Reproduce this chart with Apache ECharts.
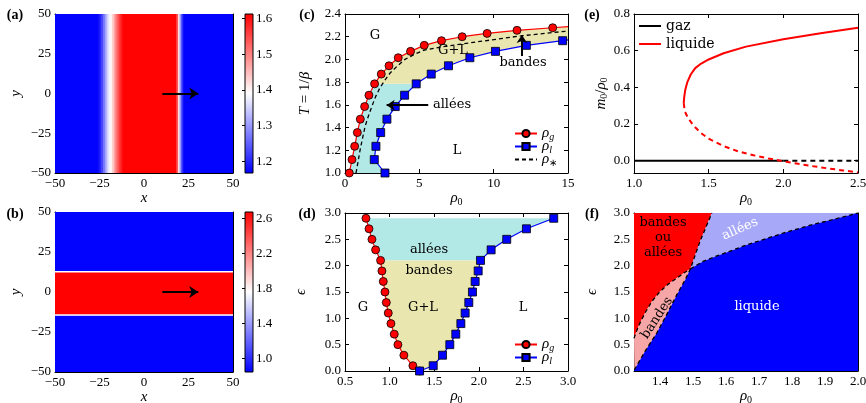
<!DOCTYPE html>
<html>
<head>
<meta charset="utf-8">
<title>Bandes et allées</title>
<script src="https://cdn.jsdelivr.net/npm/echarts@6.0.0/dist/echarts.min.js"></script>
<style>
  html, body { margin: 0; padding: 0; background: #fff; }
  #chart { width: 866px; height: 403px; }
</style>
</head>
<body>
<div id="chart"></div>
<script>
const SERIF = 'Liberation Serif'
const WORDS = 'DejaVu Serif'

// (a) profil de densité d'une bande le long de x : [x0, x1, rho]
const bandProfile = [
  [-50, -26, 1.17], [-26, -25, 1.18], [-25, -24, 1.20], [-24, -23, 1.23],
  [-23, -22, 1.27], [-22, -21, 1.31], [-21, -20, 1.35], [-20, -19, 1.38],
  [-19, -18, 1.40], [-18, -17, 1.43], [-17, -16, 1.47], [-16, -15, 1.51],
  [-15, -14, 1.54], [-14, -13, 1.57], [-13, -12, 1.59], [-12, 18, 1.61],
  [18, 19, 1.56], [19, 20, 1.42], [20, 21, 1.30], [21, 22, 1.21], [22, 50, 1.17]
]
const bandRange = [1.168, 1.612]
const bandTicks = [1.2, 1.3, 1.4, 1.5, 1.6]

// (b) profil d'une allée le long de y : [y0, y1, rho]
const laneProfile = [
  [-50, -14.5, 0.85], [-14.5, -13.5, 1.75], [-13.5, 12.5, 2.67], [12.5, 13.5, 1.75], [13.5, 50, 0.85]
]
const laneRange = [0.843, 2.672]
const laneTicks = [1.0, 1.4, 1.8, 2.2, 2.6]

const fieldExtent = [-50, 50]
const motionArrow = [[10.3, 0], [30.5, 0]]

// (c) diagramme (rho0, T)
const cTemp = [1.0, 1.118, 1.235, 1.356, 1.474, 1.585, 1.685, 1.785, 1.871, 1.944, 2.015, 2.071, 2.124, 2.165, 2.2, 2.229, 2.256, 2.279]
const cRhoGas = [0.29, 0.47, 0.65, 0.83, 1.03, 1.32, 1.61, 1.99, 2.44, 2.96, 3.58, 4.41, 5.33, 6.49, 7.88, 9.56, 11.57, 13.97]
const cRhoLiq = [2.69, 1.97, 2.08, 2.40, 2.82, 3.38, 4.01, 4.79, 5.80, 6.96, 8.40, 10.12, 12.2, 14.64]
const cGasEnd = [15, 2.288]
const cLiqEnd = [15, 2.172]
const cStarRho = [0.74, 0.88, 1.01, 1.17, 1.35, 1.57, 1.79, 2.05, 2.35, 2.7, 3.03, 3.5, 4.03, 4.6, 5.27, 6.5, 8.63, 10.3, 12.0, 13.5, 15.0]
const cStarT = [1.0, 1.1, 1.2, 1.3, 1.41, 1.5, 1.58, 1.67, 1.75, 1.82, 1.88, 1.94, 2.0, 2.04, 2.08, 2.11, 2.15, 2.18, 2.21, 2.23, 2.25]
const cLaneRow = 7 // au-dessous de T = 1.785 : allées
const cArrowBandes = [[11.9, 2.03], [11.9, 2.215]]
const cArrowAllees = [[5.6, 1.597], [2.8, 1.597]]

// (d) diagramme (rho0, epsilon)
const dEps = [2.9, 2.7, 2.5, 2.3, 2.1, 1.9, 1.7, 1.5, 1.3, 1.1, 0.9, 0.7, 0.5, 0.3, 0.1, 0.0]
const dRhoGas = [0.735, 0.769, 0.802, 0.843, 0.899, 0.914, 0.929, 0.948, 0.963, 0.985, 1.015, 1.052, 1.093, 1.16, 1.261, 1.336]
const dRhoLiq = [2.84, 2.534, 2.313, 2.138, 2.019, 1.993, 1.959, 1.929, 1.888, 1.847, 1.799, 1.742, 1.675, 1.593, 1.489, 1.336]
const dLaneRow = 4 // au-dessus de eps = 2.1 : allées

// (e) solutions homogènes m0/rho0
const eGasStable = [[1.0, 0], [2.0, 0]]
const eGasUnstable = [[2.0, 0], [2.5, 0]]
const eLiqStable = [[1.333, 0.314], [1.336, 0.345], [1.343, 0.385], [1.358, 0.43], [1.38, 0.47], [1.41, 0.505], [1.45, 0.53],
  [1.5, 0.552], [1.6, 0.586], [1.75, 0.622], [2.0, 0.662], [2.25, 0.695], [2.5, 0.725]]
const eLiqUnstable = [[1.333, 0.314], [1.34, 0.27], [1.36, 0.235], [1.4, 0.19], [1.45, 0.15], [1.5, 0.12], [1.6, 0.08],
  [1.7, 0.05], [1.8, 0.03], [1.9, 0.012], [2.0, -0.003], [2.1, -0.017], [2.2, -0.03], [2.3, -0.042], [2.4, -0.053], [2.5, -0.064]]
const eMagTicks = [0.0, 0.2, 0.4, 0.6, 0.8]

// (f) frontières de stabilité (rho0, epsilon)
const fLimitLow = [[1.322, 0.02], [1.354, 0.37], [1.39, 0.72], [1.42, 1.07], [1.451, 1.45], [1.476, 1.73], [1.492, 1.94]]
const fLimitHigh = [[1.492, 1.94], [1.521, 2.46], [1.557, 3.0]]
const fLaneEdge = [[1.492, 1.94], [1.53, 2.08], [1.57, 2.18], [1.61, 2.27], [1.66, 2.39], [1.72, 2.51], [1.78, 2.63], [1.85, 2.76], [1.92, 2.87], [2.0, 3.0]]
const fBandEdge = [[1.321, 0.62], [1.33, 0.78], [1.342, 0.95], [1.356, 1.12], [1.375, 1.32], [1.40, 1.51], [1.425, 1.65], [1.45, 1.76], [1.472, 1.86], [1.492, 1.94]]
const fRange = [1.321, 2.0, 0, 3]
const fRhoTicks = [1.4, 1.5, 1.6, 1.7, 1.8, 1.9, 2.0]

const BWR = ['#0000ff', '#ffffff', '#ff0000']
const zip = (xs, ys) => xs.map((x, i) => [x, ys[i]])
const fmtInt = v => (v < 0 ? '\u2212' : '') + Math.abs(v)
const fmt1 = v => (v < -1e-9 ? '\u2212' : '') + Math.abs(v).toFixed(1)

const nameRich = {
  i: { fontFamily: SERIF, fontStyle: 'italic', fontSize: 15, color: '#000' },
  s: { fontFamily: SERIF, fontSize: 10, color: '#000', padding: [7, 0, 0, 0] }
}
const RHO0 = '{i|ρ}{s|0}'

const grids = [
  { left: 55, top: 14, width: 178, height: 159 },
  { left: 55, top: 212, width: 178, height: 160 },
  { left: 345, top: 14, width: 223, height: 159 },
  { left: 345, top: 213, width: 223, height: 158 },
  { left: 634, top: 14, width: 224, height: 159 },
  { left: 634, top: 213, width: 224, height: 158 },
  { left: 245, top: 14, width: 8, height: 159 },
  { left: 245, top: 212, width: 8, height: 160 }
]

const fieldAx = { min: -50, max: 50, interval: 25, fmt: fmtInt }
const panels = [
  { x: { ...fieldAx, name: '{i|x}', gap: 18 }, y: { ...fieldAx, name: '{i|y}', gap: 31 } },
  { x: { ...fieldAx, name: '{i|x}', gap: 18 }, y: { ...fieldAx, name: '{i|y}', gap: 31 } },
  { x: { min: 0, max: 15, interval: 5, fmt: fmtInt, name: RHO0, gap: 17 },
    y: { min: 1.0, max: 2.4, interval: 0.2, fmt: fmt1, name: '{i|T} = 1/{i|β}', gap: 32 } },
  { x: { min: 0.5, max: 3.0, interval: 0.5, fmt: fmt1, name: RHO0, gap: 17 },
    y: { min: 0, max: 3, interval: 0.5, fmt: fmt1, name: '{i|ϵ}', gap: 36 } },
  { x: { min: 1.0, max: 2.5, interval: 0.5, fmt: fmt1, name: RHO0, gap: 17 },
    y: { min: -0.067, max: 0.8, ticks: eMagTicks, fmt: fmt1, name: '{i|m}{s|0}/{i|ρ}{s|0}', gap: 21 } },
  { x: { min: fRange[0], max: fRange[1], ticks: fRhoTicks, fmt: fmt1, name: RHO0, gap: 17 },
    y: { min: fRange[2], max: fRange[3], interval: 0.5, fmt: fmt1, name: '{i|ϵ}', gap: 34 } }
]

function axis(gi, spec, side) {
  const main = side === 'bottom' || side === 'left'
  const a = {
    type: 'value', gridIndex: gi, position: side, min: spec.min, max: spec.max,
    axisLine: { show: true, onZero: false, lineStyle: { color: '#000', width: 1 } },
    axisTick: { show: true, inside: true, length: 4, lineStyle: { color: '#000', width: 1 } },
    axisLabel: { show: main, color: '#000', fontFamily: SERIF, fontSize: 13, margin: 4, formatter: spec.fmt },
    splitLine: { show: false }
  }
  if (spec.ticks) {
    a.axisTick.customValues = spec.ticks
    a.axisLabel.customValues = spec.ticks
  } else {
    a.interval = spec.interval
  }
  if (main) {
    a.name = spec.name
    a.nameLocation = 'middle'
    a.nameGap = spec.gap
    a.nameTextStyle = { fontFamily: SERIF, fontSize: 15, color: '#000', rich: nameRich }
  }
  return a
}

const xAxes = []
const yAxes = []
panels.forEach((p, gi) => {
  xAxes.push(axis(gi, p.x, 'bottom'), axis(gi, p.x, 'top'))
  yAxes.push(axis(gi, p.y, 'left'), axis(gi, p.y, 'right'))
})
;[[bandRange, bandTicks], [laneRange, laneTicks]].forEach(([range, ticks], k) => {
  const gi = 6 + k
  xAxes.push({ type: 'value', gridIndex: gi, show: false, min: 0, max: 1 })
  yAxes.push({
    type: 'value', gridIndex: gi, position: 'right', min: range[0], max: range[1],
    axisLine: { show: false },
    axisTick: { show: true, inside: true, length: 3, customValues: ticks, lineStyle: { color: '#000' } },
    axisLabel: { color: '#000', fontFamily: SERIF, fontSize: 13, margin: 3, customValues: ticks, formatter: fmt1 },
    splitLine: { show: false }
  })
})

// bandes de couleur (cartes de densité)
function stripes(pi, data, alongY) {
  return {
    type: 'custom', xAxisIndex: 2 * pi, yAxisIndex: 2 * pi, data, silent: true, clip: true, z: 1,
    renderItem(params, api) {
      const a = api.value(0), b = api.value(1)
      const p0 = alongY ? api.coord([fieldExtent[0], b]) : api.coord([a, fieldExtent[1]])
      const p1 = alongY ? api.coord([fieldExtent[1], a]) : api.coord([b, fieldExtent[0]])
      return {
        type: 'rect',
        shape: { x: p0[0], y: p0[1], width: p1[0] - p0[0] + (alongY ? 0 : 0.6), height: p1[1] - p0[1] + (alongY ? 0.6 : 0) },
        style: { fill: api.visual('color') }
      }
    }
  }
}

function area(pi, pts, color) {
  return {
    type: 'custom', xAxisIndex: 2 * pi, yAxisIndex: 2 * pi, data: [0], silent: true, clip: true, z: 1,
    renderItem(params, api) {
      return { type: 'polygon', shape: { points: pts.map(p => api.coord(p)) }, style: { fill: color } }
    }
  }
}

function curve(name, pi, pts, color, extra) {
  return Object.assign({
    type: 'line', name, xAxisIndex: 2 * pi, yAxisIndex: 2 * pi, data: pts, symbol: 'none',
    silent: true, z: 3, animation: false,
    lineStyle: { color, width: 1.2 }, itemStyle: { color }
  }, extra)
}

function arrows(pi, segs, width, size) {
  return {
    type: 'line', xAxisIndex: 2 * pi, yAxisIndex: 2 * pi, data: [], silent: true, z: 6,
    markLine: {
      silent: true, animation: false, symbol: ['none', 'arrow'], symbolSize: size,
      label: { show: false }, emphasis: { disabled: true },
      lineStyle: { color: '#000', width, type: 'solid' },
      data: segs.map(s => [{ coord: s[0] }, { coord: s[1] }])
    }
  }
}

const dot = { symbol: 'circle', symbolSize: 8, showSymbol: true, itemStyle: { color: '#ff0000', borderColor: '#000', borderWidth: 0.8 } }
const box = { symbol: 'rect', symbolSize: 8, showSymbol: true, itemStyle: { color: '#0000ff', borderColor: '#000', borderWidth: 0.8 } }

// (c)
const cGas = zip(cRhoGas, cTemp)
const cLiq = zip(cRhoLiq, cTemp)
const cLaneFill = cGas.slice(0, cLaneRow + 1).concat(cLiq.slice(0, cLaneRow + 1).reverse())
const cBandFill = cGas.slice(cLaneRow).concat([cGasEnd, cLiqEnd], cLiq.slice(cLaneRow).reverse())
// (d)
const dGas = zip(dRhoGas, dEps)
const dLiq = zip(dRhoLiq, dEps)
const dLaneFill = dGas.slice(0, dLaneRow + 1).concat(dLiq.slice(0, dLaneRow + 1).reverse())
const dBandFill = dGas.slice(dLaneRow).concat(dLiq.slice(dLaneRow).reverse())
// (f)
const [fx0, fx1, fy0, fy1] = fRange
const fRed = [[fx0, fy1]].concat(fLimitHigh.slice().reverse(), fBandEdge.slice().reverse())
const fPink = fBandEdge.concat(fLimitLow.slice().reverse())
const fLav = fLimitHigh.concat(fLaneEdge.slice().reverse())
const fBlue = fLimitLow.concat(fLaneEdge.slice(1), [[fx1, fy0], [fx0, fy0]])
const dash = { lineStyle: { color: '#000', width: 1.3, type: [4, 3] } }

const series = [
  stripes(0, bandProfile, false),
  stripes(1, laneProfile, true),
  arrows(0, [motionArrow], 2, 9),
  arrows(1, [motionArrow], 2, 9),

  area(2, cLaneFill, '#b2e8e6'),
  area(2, cBandFill, '#e9e6b0'),
  curve('cRhoS', 2, zip(cStarRho, cStarT), '#000', { lineStyle: { color: '#000', width: 1.3, type: [4, 3] } }),
  curve('cRhoG', 2, cGas.concat([{ value: cGasEnd, symbol: 'none' }]), '#ff0000', dot),
  curve('cRhoL', 2, cLiq.concat([{ value: cLiqEnd, symbol: 'none' }]), '#0000ff', box),
  arrows(2, [cArrowBandes, cArrowAllees], 2, 8),

  area(3, dLaneFill, '#b2e8e6'),
  area(3, dBandFill, '#e9e6b0'),
  curve('dRhoG', 3, dGas, '#ff0000', dot),
  curve('dRhoL', 3, dLiq, '#0000ff', box),

  curve('eGas', 4, eGasStable, '#000', { lineStyle: { color: '#000', width: 2 } }),
  curve('eGasU', 4, eGasUnstable, '#000', { lineStyle: { color: '#000', width: 2, type: [5, 4] } }),
  curve('eLiq', 4, eLiqStable, '#ff0000', { lineStyle: { color: '#ff0000', width: 2 } }),
  curve('eLiqU', 4, eLiqUnstable, '#ff0000', { lineStyle: { color: '#ff0000', width: 2, type: [5, 4] } }),

  area(5, fRed, '#ff0000'),
  area(5, fPink, '#f6a6a6'),
  area(5, fLav, '#a8a8f8'),
  area(5, fBlue, '#0000ff'),
  curve('fA', 5, fLimitLow.concat(fLimitHigh.slice(1)), '#000', dash),
  curve('fB', 5, fLaneEdge, '#000', dash),
  curve('fC', 5, fBandEdge, '#000', dash)
]

const legendNames = {
  cRhoG: '{i|ρ}{s|g}', cRhoL: '{i|ρ}{s|l}', cRhoS: '{i|ρ}{r|∗}',
  dRhoG: '{i|ρ}{s|g}', dRhoL: '{i|ρ}{s|l}',
  eGas: 'gaz', eLiq: 'liquide'
}
const lineOnly = name => ({ name, itemStyle: { opacity: 0 } })
const legendRich = {
  i: { fontFamily: SERIF, fontStyle: 'italic', fontSize: 15, color: '#000' },
  s: { fontFamily: SERIF, fontStyle: 'italic', fontSize: 10, color: '#000', padding: [7, 0, 0, 0] },
  r: { fontFamily: SERIF, fontSize: 10, color: '#000', padding: [7, 0, 0, 0] }
}
const rhoLegend = (names, top) => ({
  data: names, left: 514, top, orient: 'vertical', itemWidth: 22, itemHeight: 9, itemGap: -3, padding: 0,
  selectedMode: false, formatter: n => legendNames[n],
  textStyle: { fontFamily: SERIF, fontSize: 14, color: '#000', rich: legendRich }
})

const colorbar = g => ({
  type: 'rect', silent: true, z: 10,
  shape: { x: g.left, y: g.top, width: g.width, height: g.height },
  style: {
    fill: { type: 'linear', x: 0, y: 0, x2: 0, y2: 1, colorStops: [
      { offset: 0, color: BWR[2] }, { offset: 0.5, color: BWR[1] }, { offset: 1, color: BWR[0] }] },
    stroke: '#000', lineWidth: 1
  }
})

function note(x, y, text, o = {}) {
  return {
    type: 'text', x, y, rotation: o.rot || 0, silent: true, z: 20,
    style: {
      text, fill: o.color || '#000', font: o.font || '13px "DejaVu Serif"',
      align: 'center', verticalAlign: 'middle', textAlign: 'center', textVerticalAlign: 'middle'
    }
  }
}
const tag = (x, y, t) => note(x, y, t, { font: 'bold 14px "Liberation Serif"' })
const deg = d => d * Math.PI / 180

const chart = echarts.init(document.getElementById('chart'), null, { renderer: 'canvas' })
chart.setOption({
  animation: false,
  backgroundColor: '#fff',
  grid: grids.map(g => Object.assign({ outerBoundsMode: 'none', containLabel: false }, g)),
  xAxis: xAxes,
  yAxis: yAxes,
  visualMap: [
    { show: false, type: 'continuous', seriesIndex: 0, dimension: 2, min: bandRange[0], max: bandRange[1], inRange: { color: BWR } },
    { show: false, type: 'continuous', seriesIndex: 1, dimension: 2, min: laneRange[0], max: laneRange[1], inRange: { color: BWR } }
  ],
  legend: [
    rhoLegend(['cRhoG', 'cRhoL', lineOnly('cRhoS')], 126),
    rhoLegend(['dRhoG', 'dRhoL'], 337),
    {
      data: [lineOnly('eGas'), lineOnly('eLiq')], left: 638, top: 19, orient: 'vertical', itemWidth: 22, itemHeight: 10, itemGap: 4, padding: 0,
      selectedMode: false, formatter: n => legendNames[n],
      textStyle: { fontFamily: WORDS, fontSize: 14, color: '#000' }
    }
  ],
  graphic: [
    colorbar(grids[6]), colorbar(grids[7]),
    tag(15, 15, '(a)'), tag(15, 214, '(b)'), tag(307, 15, '(c)'), tag(307, 214, '(d)'), tag(592, 15, '(e)'), tag(592, 214, '(f)'),
    note(375, 36, 'G'), note(453, 51, 'G+L'), note(523, 63, 'bandes'), note(452, 105, 'allées'), note(457, 151, 'L'),
    note(429, 250, 'allées'), note(429, 271, 'bandes'), note(363, 308, 'G'), note(423, 308, 'G+L'), note(523, 308, 'L'),
    note(663, 223, 'bandes'), note(663, 238, 'ou'), note(663, 253, 'allées'),
    note(657, 318, 'bandes', { rot: deg(57) }),
    note(740, 229, 'allées', { rot: deg(24), color: '#fff' }),
    note(757, 307, 'liquide', { color: '#fff' })
  ],
  series
})
</script>
</body>
</html>
